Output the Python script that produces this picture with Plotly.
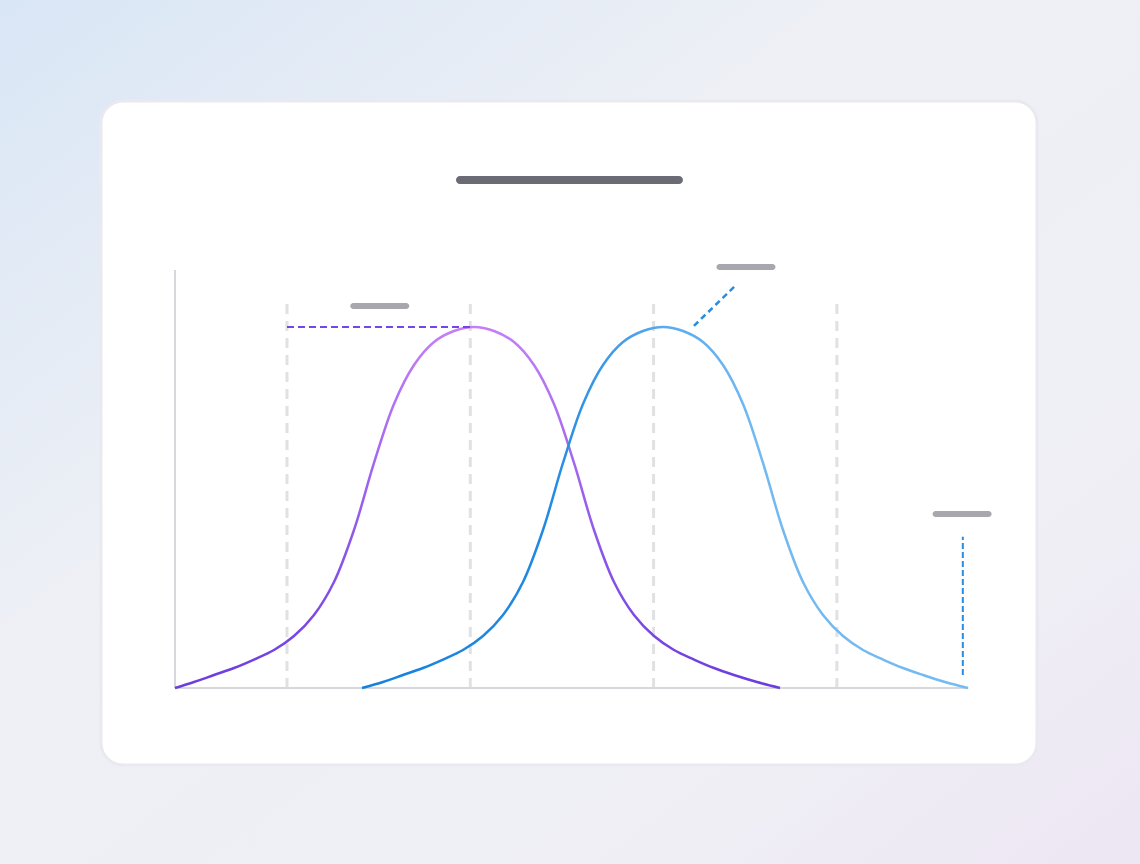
import base64

import plotly.graph_objects as go

# curve samples (x: one unit per dashed guide, y: peak = 1)
purple_x = [0.389, 0.4926, 0.6018, 0.7109, 0.8200, 0.9291, 1.0382, 1.1473, 1.2564, 1.3655,
            1.4746, 1.5838, 1.6929, 1.8020, 1.9111, 2.0202, 2.1293, 2.2384, 2.3475, 2.4566,
            2.5658, 2.6749, 2.7840, 2.8931, 3.0022, 3.1113, 3.2204, 3.3295, 3.4386, 3.5641,
            3.6896]
purple_y = [0.0, 0.0166, 0.0360, 0.0554, 0.0789, 0.1053, 0.1440, 0.2022, 0.2936, 0.4377,
            0.6233, 0.7867, 0.8947, 0.9584, 0.9889, 1.0, 0.9889, 0.9584, 0.8947, 0.7867,
            0.6233, 0.4377, 0.2936, 0.2022, 0.1440, 0.1053, 0.0789, 0.0554, 0.0360, 0.0166,
            0.0]

blue_x = [1.4092, 1.5237, 1.6329, 1.7420, 1.8511, 1.9602, 2.0693, 2.1784, 2.2875, 2.3966,
          2.5057, 2.6149, 2.7240, 2.8331, 2.9422, 3.0513, 3.1604, 3.2695, 3.3786, 3.4877,
          3.5969, 3.7060, 3.8151, 3.9242, 4.0333, 4.1424, 4.2515, 4.3606, 4.4697, 4.5898,
          4.7152]
blue_y = [0.0, 0.0166, 0.0360, 0.0554, 0.0789, 0.1053, 0.1440, 0.2022, 0.2936, 0.4377,
          0.6233, 0.7867, 0.8947, 0.9584, 0.9889, 1.0, 0.9889, 0.9584, 0.8947, 0.7867,
          0.6233, 0.4377, 0.2936, 0.2022, 0.1440, 0.1053, 0.0789, 0.0554, 0.0360, 0.0166,
          0.0]

# dashed vertical guides
grid_x = [1, 2, 3, 4]
grid_top = 1.066

# axes extent
axis_x = [0.389, 4.717]
axis_y = [0.0, 1.158]

# callout guides
purple_guide_x = [1.0, 2.02]
purple_guide_y = [1.0, 1.0]
blue_leader_x = [3.22, 3.455]
blue_leader_y = [1.003, 1.119]
blue_drop_x = [4.687, 4.687]
blue_drop_y = [0.036, 0.419]

# placeholder label pills (centres)
label_x = [1.506, 3.504, 4.683]
label_y = [1.058, 1.166, 0.482]
title_x, title_y = 2.541, 1.407
card_x, card_y = 2.5385, 0.7064


def rounded_rect(w, h, r):
    hw, hh, k = w / 2, h / 2, 0.5523 * r
    return (
        f"M{-hw + r},{-hh} L{hw - r},{-hh} "
        f"C{hw - r + k},{-hh} {hw},{-hh + r - k} {hw},{-hh + r} "
        f"L{hw},{hh - r} C{hw},{hh - r + k} {hw - r + k},{hh} {hw - r},{hh} "
        f"L{-hw + r},{hh} C{-hw + r - k},{hh} {-hw},{hh - r + k} {-hw},{hh - r} "
        f"L{-hw},{-hh + r} C{-hw},{-hh + r - k} {-hw + r - k},{-hh} {-hw + r},{-hh} Z"
    )


def pixel_path(x, y, path, fill, line_color=None, line_width=0, layer="above"):
    return dict(
        type="path", xref="x", yref="y",
        xsizemode="pixel", ysizemode="pixel", xanchor=x, yanchor=y,
        path=path, fillcolor=fill, layer=layer,
        line=dict(color=line_color or fill, width=line_width),
    )


bg_svg = (
    "<svg xmlns='http://www.w3.org/2000/svg' width='1140' height='864' preserveAspectRatio='none'>"
    "<defs><linearGradient id='g' x1='0' y1='0' x2='1' y2='1'>"
    "<stop offset='0' stop-color='#d9e6f6'/><stop offset='0.38' stop-color='#eef0f5'/>"
    "<stop offset='0.75' stop-color='#efeff5'/><stop offset='1' stop-color='#ede6f3'/>"
    "</linearGradient></defs>"
    "<rect width='1140' height='864' fill='url(#g)'/></svg>"
)
bg_uri = "data:image/svg+xml;base64," + base64.b64encode(bg_svg.encode()).decode()

fig = go.Figure()

fig.add_trace(go.Scatter(x=purple_x, y=purple_y, mode="lines",
                         line=dict(color="#9150ec", width=2.5, shape="spline",
                                   smoothing=1.0, simplify=False),
                         hoverinfo="skip"))
fig.add_trace(go.Scatter(x=blue_x, y=blue_y, mode="lines",
                         line=dict(color="#3e9ee9", width=2.5, shape="spline",
                                   smoothing=1.0, simplify=False),
                         hoverinfo="skip"))

shapes = []
# card
shapes.append(pixel_path(card_x, card_y, rounded_rect(936, 664, 22), "white",
                         line_color="#e9e9ef", line_width=3, layer="below"))
# grid guides
for gx in grid_x:
    shapes.append(dict(type="line", xref="x", yref="y", x0=gx, x1=gx, y0=0, y1=grid_top,
                       line=dict(color="#e1e1e4", width=3, dash="10px,7px"), layer="below"))
# axes
shapes.append(dict(type="line", xref="x", yref="y", x0=axis_x[0], x1=axis_x[1], y0=0, y1=0,
                   line=dict(color="#d8d8dc", width=2), layer="below"))
shapes.append(dict(type="line", xref="x", yref="y", x0=axis_x[0], x1=axis_x[0],
                   y0=axis_y[0], y1=axis_y[1],
                   line=dict(color="#d8d8dc", width=2), layer="below"))
# callout guides
shapes.append(dict(type="line", xref="x", yref="y",
                   x0=purple_guide_x[0], x1=purple_guide_x[1],
                   y0=purple_guide_y[0], y1=purple_guide_y[1],
                   line=dict(color="#7446e8", width=2, dash="7px,4px")))
shapes.append(dict(type="line", xref="x", yref="y",
                   x0=blue_leader_x[0], x1=blue_leader_x[1],
                   y0=blue_leader_y[0], y1=blue_leader_y[1],
                   line=dict(color="#2a8ce0", width=2.5, dash="6px,4px")))
shapes.append(dict(type="line", xref="x", yref="y",
                   x0=blue_drop_x[0], x1=blue_drop_x[1],
                   y0=blue_drop_y[0], y1=blue_drop_y[1],
                   line=dict(color="#2a8ce0", width=2, dash="6px,3px")))
# placeholder pills
shapes.append(pixel_path(title_x, title_y, rounded_rect(227, 8, 4), "#6b6b76"))
for lx, ly in zip(label_x, label_y):
    shapes.append(pixel_path(lx, ly, rounded_rect(59, 6, 3), "#a7a7ad"))

fig.update_layout(
    width=1140,
    height=864,
    margin=dict(l=0, r=0, t=0, b=0),
    paper_bgcolor="#eef0f5",
    plot_bgcolor="rgba(0,0,0,0)",
    showlegend=False,
    shapes=shapes,
    images=[dict(source=bg_uri, xref="paper", yref="paper", x=0, y=1, sizex=1, sizey=1,
                 sizing="stretch", layer="below")],
    xaxis=dict(range=[-0.5657, 5.6536], visible=False, fixedrange=True),
    yaxis=dict(range=[-0.4875, 1.9058], visible=False, fixedrange=True),
)

# gradient strokes for the two curves
post = """
document.body.style.margin = '0';
var gd = document.getElementById('{plot_id}');
var svg = gd.querySelector('svg.main-svg');
var ns = 'http://www.w3.org/2000/svg';
var defs = document.createElementNS(ns, 'defs');
function addGrad(id, x2, y2, stops) {
  var g = document.createElementNS(ns, 'linearGradient');
  g.setAttribute('id', id);
  g.setAttribute('x1', '0'); g.setAttribute('y1', '0');
  g.setAttribute('x2', x2); g.setAttribute('y2', y2);
  stops.forEach(function (s) {
    var st = document.createElementNS(ns, 'stop');
    st.setAttribute('offset', s[0]);
    st.setAttribute('stop-color', s[1]);
    g.appendChild(st);
  });
  defs.appendChild(g);
}
addGrad('purpleGrad', '0', '1', [[0, '#c47ff8'], [1, '#6b3ddf']]);
addGrad('blueGrad', '1', '0', [[0, '#1581dd'], [0.3, '#2189e2'], [0.5, '#5aaaee'],
                               [0.65, '#72b9f2'], [1, '#74bbf2']]);
svg.insertBefore(defs, svg.firstChild);
var lines = gd.querySelectorAll('.scatterlayer .trace path.js-line');
if (lines.length >= 2) {
  lines[0].style.stroke = 'url(#purpleGrad)';
  lines[1].style.stroke = 'url(#blueGrad)';
}
"""

fig.write_html("out.html", config={"displayModeBar": False}, post_script=post)
